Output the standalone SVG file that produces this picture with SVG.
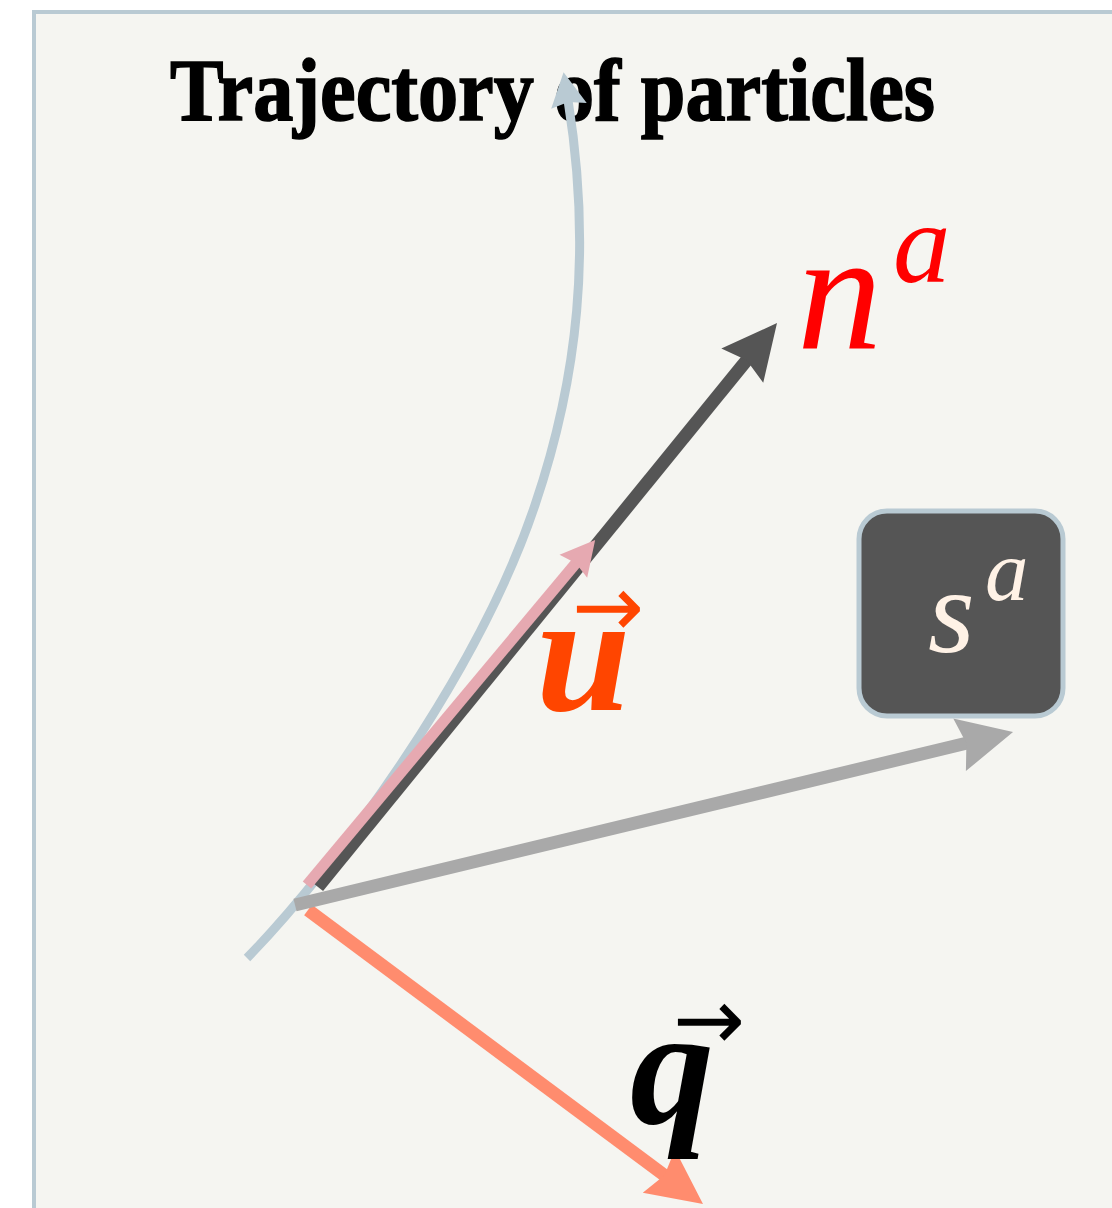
<svg xmlns="http://www.w3.org/2000/svg" width="1112" height="1208" viewBox="0 0 1112 1208">
<style>
.frame{fill:#f5f5f1;stroke:#b9cad3;stroke-width:4}
.title{font-family:"Liberation Serif",serif;font-weight:bold;font-size:88px;fill:#000;stroke:#000;stroke-width:1.6}
.conn{fill:none;stroke-linecap:butt}
.math{font-family:"Liberation Serif",serif;font-style:italic}
.bm{font-family:"Liberation Serif",serif;font-style:italic;font-weight:bold}
.vec{font-family:"DejaVu Sans",sans-serif;font-size:86px;font-style:normal;font-weight:normal}
</style>
<defs>
<marker id="hTraj" viewBox="-8 -20 40 40" refX="0" refY="0" markerWidth="40" markerHeight="40" markerUnits="userSpaceOnUse" orient="auto">
<path d="M28,0 L-6,-18 L-2,0 L-6,18 Z" fill="#b9cad3"/>
</marker>
<marker id="hPink" viewBox="-8 -20 40 40" refX="0" refY="0" markerWidth="40" markerHeight="40" markerUnits="userSpaceOnUse" orient="auto">
<path d="M28,0 L-6,-18 L-2,0 L-6,18 Z" fill="#e6a9b1"/>
</marker>
<marker id="hDark" viewBox="-12 -30 60 60" refX="0" refY="0" markerWidth="60" markerHeight="60" markerUnits="userSpaceOnUse" orient="auto">
<path d="M45,0 L-10,-27 L-3,0 L-10,27 Z" fill="#555555"/>
</marker>
<marker id="hGray" viewBox="-12 -30 60 60" refX="0" refY="0" markerWidth="60" markerHeight="60" markerUnits="userSpaceOnUse" orient="auto">
<path d="M45,0 L-10,-27 L-3,0 L-10,27 Z" fill="#a9a9a9"/>
</marker>
<marker id="hSalmon" viewBox="-12 -30 60 60" refX="0" refY="0" markerWidth="60" markerHeight="60" markerUnits="userSpaceOnUse" orient="auto">
<path d="M45,0 L-10,-27 L-3,0 L-10,27 Z" fill="#ff8c6e"/>
</marker>
</defs>
<rect width="1112" height="1208" fill="#ffffff"/>
<rect class="frame" x="34" y="12" width="1200" height="1300"/>
<g id="title">
<text class="title" x="170" y="120" textLength="765" lengthAdjust="spacingAndGlyphs">Trajectory of particles</text>
</g>
<g id="connectors">
<path id="trajectory" class="conn" d="M247,958 C335,868 478,675 535,505 C578,378 592,250 568,100" stroke="#b9cad3" stroke-width="9" marker-end="url(#hTraj)"/>
<path id="n-arrow" class="conn" d="M318,887 L748.6,357.9" stroke="#555555" stroke-width="13" marker-end="url(#hDark)"/>
<path id="u-arrow" class="conn" d="M307,885 L577.2,561.6" stroke="#e6a9b1" stroke-width="11" marker-end="url(#hPink)"/>
<path id="q-arrow" class="conn" d="M308,910 L666.9,1177.1" stroke="#ff8c6e" stroke-width="13" marker-end="url(#hSalmon)"/>
<path id="s-arrow" class="conn" d="M295,905 L969.3,742.5" stroke="#a9a9a9" stroke-width="13" marker-end="url(#hGray)"/>
</g>
<g id="label-n">
<text class="math" x="797" y="348" font-size="170" fill="#ff0000">n<tspan x="893" y="282" font-size="115">a</tspan></text>
</g>
<g id="label-u">
<text class="bm" x="536" y="710" font-size="170" fill="#ff4500">u<tspan class="vec" x="572" y="636">→</tspan></text>
</g>
<g id="label-q">
<text class="bm" x="630" y="1123" font-size="168" fill="#000000">q<tspan class="vec" x="673" y="1049">→</tspan></text>
</g>
<g id="node-s">
<rect x="859" y="511" width="204" height="205" rx="28" ry="28" fill="#555555" stroke="#b9cad3" stroke-width="5"/>
<text class="math" x="928" y="652" font-size="120" fill="#fff2e6">s<tspan x="985" y="600" font-size="87">a</tspan></text>
</g>
</svg>
